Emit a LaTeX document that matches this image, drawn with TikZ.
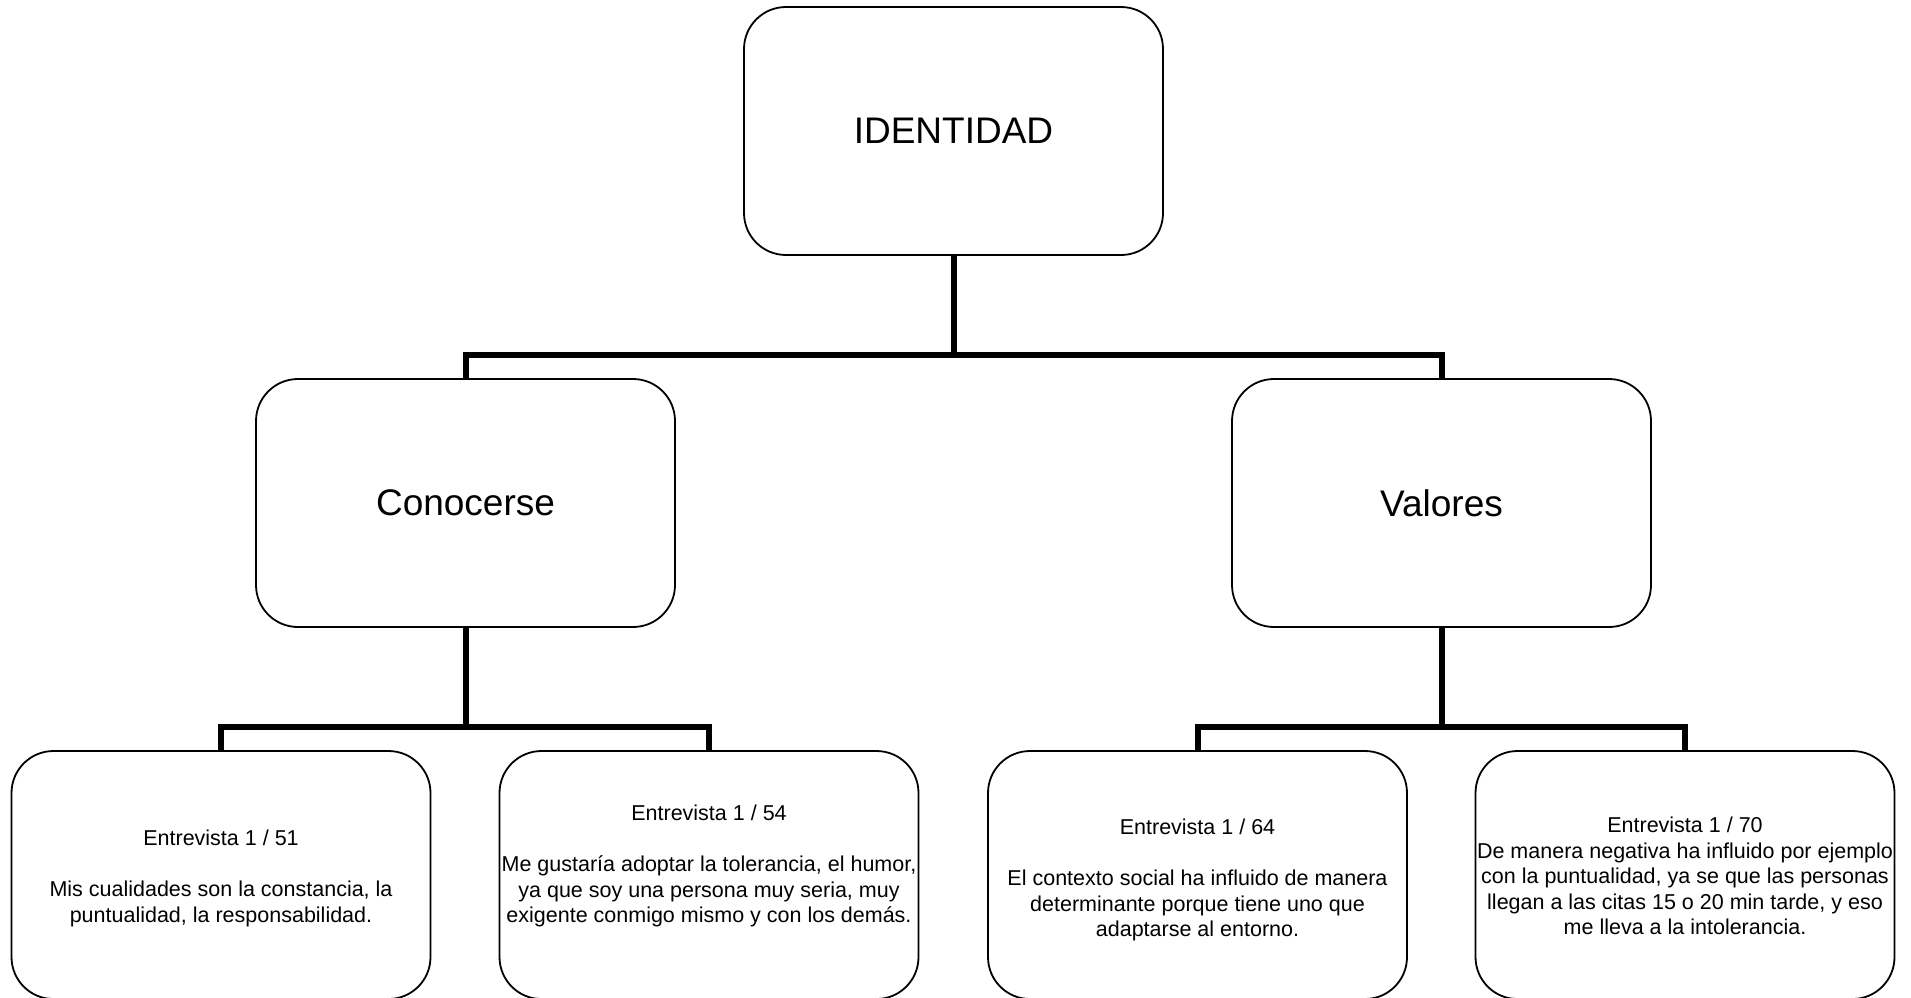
\documentclass[tikz,border=0pt]{standalone}
\usepackage{fontspec}
\setmainfont{Liberation Sans}
\begin{document}
\begin{tikzpicture}[x=1pt,y=-1pt,
  box/.style={draw, line width=1.8pt, rounded corners=42pt, minimum width=419pt, minimum height=248pt, inner sep=0pt, fill=white},
  bigtxt/.style={font=\fontsize{37}{42}\selectfont, inner sep=0pt},
  smalltxt/.style={font=\fontsize{21.5}{25.5}\selectfont, align=center, inner sep=0pt, anchor=north},
  conn/.style={draw, line width=6pt}]
\useasboundingbox (0,0) rectangle (1911,997);
\clip (0,0) rectangle (1911,997);
% junctions
\coordinate (j0) at (953.5,355);
\coordinate (j1) at (465.5,727);
\coordinate (j2) at (1441.5,727);
% boxes
\node[box] (top) at (953.5,131) {};
\node[box] (con) at (465.5,503) {};
\node[box] (val) at (1441.5,503) {};
\node[box] (b1) at (221,875) {};
\node[box] (b2) at (709,875) {};
\node[box] (b3) at (1197.5,875) {};
\node[box] (b4) at (1685,875) {};
% connectors
\draw[conn] (top.south) -- (j0);
\draw[conn] (con.north) |- (j0) -| (val.north);
\draw[conn] (con.south) -- (j1);
\draw[conn] (b1.north) |- (j1) -| (b2.north);
\draw[conn] (val.south) -- (j2);
\draw[conn] (b3.north) |- (j2) -| (b4.north);
% texts
\node[bigtxt] (ttop) at (top.center) {IDENTIDAD};
\node[bigtxt] (tcon) at (con.center) {Conocerse};
\node[bigtxt] (tval) at (val.center) {Valores};
\node[smalltxt] (t1) at (221,830) {Entrevista 1 / 51\\[25.5pt]Mis cualidades son la constancia, la\\puntualidad, la responsabilidad.};
\node[smalltxt] (t2) at (709,805) {Entrevista 1 / 54\\[25.5pt]Me gustaría adoptar la tolerancia, el humor,\\ya que soy una persona muy seria, muy\\exigente conmigo mismo y con los demás.};
\node[smalltxt] (t3) at (1197.5,819) {Entrevista 1 / 64\\[25.5pt]El contexto social ha influido de manera\\determinante porque tiene uno que\\adaptarse al entorno.};
\node[smalltxt] (t4) at (1685,817) {Entrevista 1 / 70\\De manera negativa ha influido por ejemplo\\con la puntualidad, ya se que las personas\\llegan a las citas 15 o 20 min tarde, y eso\\me lleva a la intolerancia.};
\end{tikzpicture}
\end{document}
